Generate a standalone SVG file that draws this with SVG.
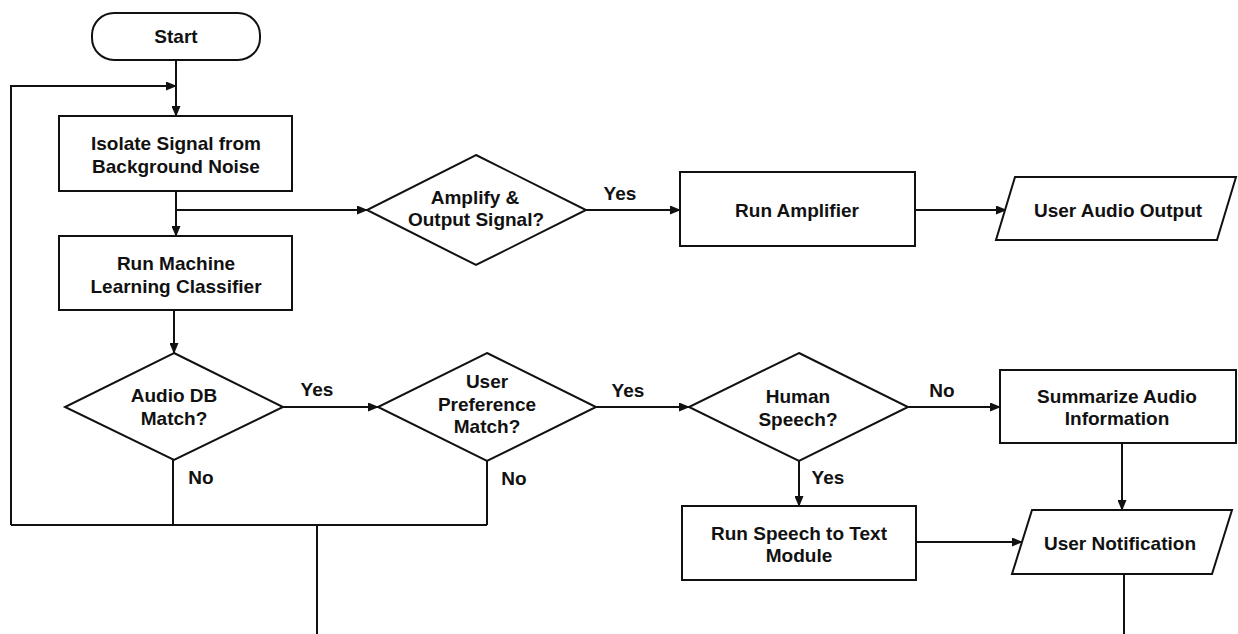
<svg xmlns="http://www.w3.org/2000/svg" width="1238" height="634" viewBox="0 0 1238 634">
<defs>
<marker id="arr" markerUnits="userSpaceOnUse" markerWidth="11" markerHeight="9" refX="10" refY="4.5" orient="auto">
<path d="M0,0 L11,4.5 L0,9 z" fill="#111"/>
</marker>
<style>
.shape{fill:#fff;stroke:#111;stroke-width:2}
.t{font-family:"Liberation Sans",Arial,sans-serif;font-weight:bold;font-size:19px;fill:#111;text-anchor:middle;dominant-baseline:central}
.c{fill:none;stroke:#111;stroke-width:2}
.ca{fill:none;stroke:#111;stroke-width:2;marker-end:url(#arr)}
</style>
</defs>
<rect width="1238" height="634" fill="#fff"/>
<g id="connectors">
<path class="ca" d="M176,60 V116"/>
<path class="c" d="M11,525 H487"/>
<path class="ca" d="M11,525 V86 H176"/>
<path class="ca" d="M176,191 V236"/>
<path class="ca" d="M176,210 H367"/>
<path class="ca" d="M586,210 H680"/>
<path class="ca" d="M915,210 H1006"/>
<path class="ca" d="M174,310 V353"/>
<path class="ca" d="M283,407 H378"/>
<path class="ca" d="M596,407 H689"/>
<path class="ca" d="M908,407 H1000"/>
<path class="ca" d="M799,461 V506"/>
<path class="ca" d="M1122,443 V510"/>
<path class="ca" d="M916,542 H1022"/>
<path class="c" d="M1124,574 V634"/>
<path class="c" d="M173,460 V525"/>
<path class="c" d="M487,461 V525"/>
<path class="c" d="M317,525 V634"/>
<text class="t" x="620" y="193">Yes</text>
<text class="t" x="317" y="389">Yes</text>
<text class="t" x="628" y="390">Yes</text>
<text class="t" x="942" y="390">No</text>
<text class="t" x="828" y="477">Yes</text>
<text class="t" x="201" y="477">No</text>
<text class="t" x="514" y="478">No</text>
</g>
<g id="start">
<rect class="shape" x="92" y="13" width="168" height="47" rx="22" ry="22"/>
<text class="t" x="176" y="36">Start</text>
</g>
<g id="isolate">
<rect class="shape" x="59" y="116" width="233" height="75"/>
<text class="t" x="176" y="143">Isolate Signal from</text>
<text class="t" x="176" y="166">Background Noise</text>
</g>
<g id="classifier">
<rect class="shape" x="59" y="236" width="233" height="74"/>
<text class="t" x="176" y="263">Run Machine</text>
<text class="t" x="176" y="286">Learning Classifier</text>
</g>
<g id="amplify-decision">
<polygon class="shape" points="476,155 586,210 476,265 367,210"/>
<text class="t" x="475" y="197">Amplify &amp;</text>
<text class="t" x="476" y="219">Output Signal?</text>
</g>
<g id="run-amplifier">
<rect class="shape" x="680" y="172" width="235" height="74"/>
<text class="t" x="797" y="210">Run Amplifier</text>
</g>
<g id="user-audio-output">
<polygon class="shape" points="1015,177 1236,177 1217,240 996,240"/>
<text class="t" x="1118" y="210">User Audio Output</text>
</g>
<g id="audio-db">
<polygon class="shape" points="174,353 283,407 174,460 65,407"/>
<text class="t" x="174" y="395">Audio DB</text>
<text class="t" x="174" y="418">Match?</text>
</g>
<g id="user-pref">
<polygon class="shape" points="487,353 596,407 487,461 378,407"/>
<text class="t" x="487" y="381">User</text>
<text class="t" x="487" y="404">Preference</text>
<text class="t" x="487" y="426">Match?</text>
</g>
<g id="human-speech">
<polygon class="shape" points="799,353 908,407 799,461 689,407"/>
<text class="t" x="798" y="396">Human</text>
<text class="t" x="798" y="419">Speech?</text>
</g>
<g id="summarize">
<rect class="shape" x="1000" y="370" width="236" height="73"/>
<text class="t" x="1117" y="396">Summarize Audio</text>
<text class="t" x="1117" y="418">Information</text>
</g>
<g id="speech-to-text">
<rect class="shape" x="682" y="506" width="234" height="74"/>
<text class="t" x="799" y="533">Run Speech to Text</text>
<text class="t" x="799" y="555">Module</text>
</g>
<g id="user-notification">
<polygon class="shape" points="1032,510 1232,510 1212,574 1012,574"/>
<text class="t" x="1120" y="543">User Notification</text>
</g>
</svg>
